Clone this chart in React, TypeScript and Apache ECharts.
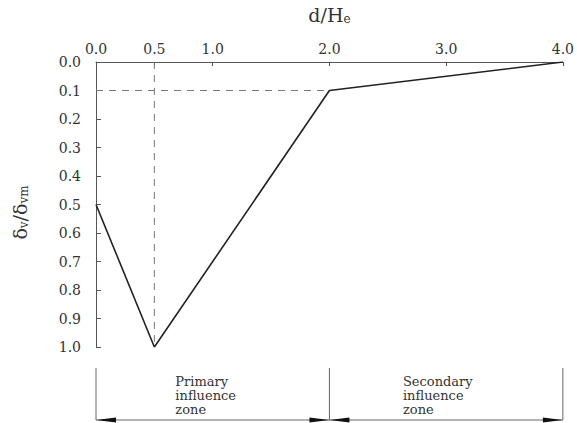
import React, { useEffect, useRef } from "react";
import * as echarts from "echarts";

// Data
const curveX = [0.0, 0.5, 2.0, 4.0];
const curveY = [0.5, 1.0, 0.1, 0.0];
const dashVertX = [0.5, 0.5];
const dashVertY = [0.0, 1.0];
const dashHorX = [0.0, 2.0];
const dashHorY = [0.1, 0.1];
const xLabelValues = [0, 0.5, 1, 2, 3, 4];
const xTickValues = [0.5, 1, 2, 3, 4];
const zoneBounds = [0, 2, 4];
const zoneLabels = ["Primary\ninfluence\nzone", "Secondary\ninfluence\nzone"];
const zoneLabelX = [0.68, 2.63];

const FONT = "DejaVu Serif";
const TXT = "#333";

export default function App() {
  const ref = useRef<HTMLDivElement>(null);
  useEffect(() => {
    if (!ref.current) return;
    const chart = echarts.init(ref.current, null, { renderer: "svg" });
    const pair = (xs: number[], ys: number[]) => xs.map((x, i) => [x, ys[i]]);
    const sub = { fontFamily: FONT, fontSize: 12, color: TXT, verticalAlign: "bottom", padding: [9, 0, 0, 0] };
    chart.setOption({
      animation: false,
      backgroundColor: "#fff",
      grid: { left: 96, right: 10, top: 61, bottom: 76 },
      xAxis: {
        type: "value",
        position: "top",
        min: 0,
        max: 4,
        name: "d/H{sub|e}",
        nameLocation: "middle",
        nameGap: 37,
        nameTextStyle: { fontFamily: FONT, fontSize: 19, color: TXT, rich: { sub } },
        axisLine: { show: true, lineStyle: { color: "#555", width: 1 } },
        axisTick: { show: true, inside: true, length: 4, customValues: xTickValues, lineStyle: { color: "#555" } },
        axisLabel: {
          customValues: xLabelValues,
          formatter: (v: number) => v.toFixed(1),
          fontFamily: FONT,
          fontSize: 14,
          color: TXT,
          margin: 6,
        },
        splitLine: { show: false },
      },
      yAxis: {
        type: "value",
        inverse: true,
        min: 0,
        max: 1,
        interval: 0.1,
        name: "δ{sub|v}/δ{sub|vm}",
        nameLocation: "middle",
        nameRotate: 90,
        nameGap: 66,
        nameTextStyle: { fontFamily: FONT, fontSize: 19, color: TXT, padding: [0, 16, 0, 0], rich: { sub } },
        axisLine: { show: true, lineStyle: { color: "#555", width: 1 } },
        axisTick: { show: true, inside: true, length: 5, lineStyle: { color: "#555" } },
        axisLabel: {
          formatter: (v: number) => v.toFixed(1),
          fontFamily: FONT,
          fontSize: 14,
          color: TXT,
          margin: 15,
        },
        splitLine: { show: false },
      },
      series: [
        {
          type: "line",
          data: pair(dashVertX, dashVertY),
          showSymbol: false,
          lineStyle: { color: "#777", width: 1, type: [7, 6] },
          silent: true,
        },
        {
          type: "line",
          data: pair(dashHorX, dashHorY),
          showSymbol: false,
          lineStyle: { color: "#777", width: 1, type: [7, 6] },
          silent: true,
        },
        {
          type: "line",
          data: pair(curveX, curveY),
          showSymbol: false,
          lineStyle: { color: "#222", width: 1.6 },
          silent: true,
        },
      ],
    });

    const bottom = chart.convertToPixel({ xAxisIndex: 0, yAxisIndex: 0 }, [0, 1])[1];
    const px = (x: number) => chart.convertToPixel({ xAxisIndex: 0, yAxisIndex: 0 }, [x, 0])[0];
    const yTop = bottom + 21;
    const yArrow = bottom + 73;
    const graphics: any[] = [];

    zoneBounds.forEach((b) => {
      graphics.push({
        type: "line",
        shape: { x1: px(b), y1: yTop, x2: px(b), y2: yArrow },
        style: { stroke: "#666", lineWidth: 1 },
      });
    });
    graphics.push({
      type: "line",
      shape: { x1: px(zoneBounds[0]), y1: yArrow, x2: px(zoneBounds[zoneBounds.length - 1]), y2: yArrow },
      style: { stroke: "#666", lineWidth: 1 },
    });
    const arrow = (tipX: number, dir: number) => ({
      type: "polygon",
      shape: {
        points: [
          [tipX, yArrow],
          [tipX + dir * 20, yArrow - 2.5],
          [tipX + dir * 20, yArrow + 2.5],
        ],
      },
      style: { fill: "#111" },
    });
    for (let i = 0; i < zoneBounds.length - 1; i++) {
      graphics.push(arrow(px(zoneBounds[i]), 1));
      graphics.push(arrow(px(zoneBounds[i + 1]), -1));
    }
    zoneLabels.forEach((t, i) => {
      graphics.push({
        type: "text",
        x: px(zoneLabelX[i]),
        y: bottom + 27,
        style: {
          text: t,
          fontFamily: FONT,
          fontSize: 13,
          lineHeight: 14,
          fill: TXT,
          textAlign: "left",
          textVerticalAlign: "top",
        },
      });
    });
    chart.setOption({ graphic: graphics });
    return () => chart.dispose();
  }, []);
  return (
    <div
      ref={ref}
      style={{ position: "fixed", left: 0, top: 0, width: 577, height: 423, background: "#fff" }}
    />
  );
}
